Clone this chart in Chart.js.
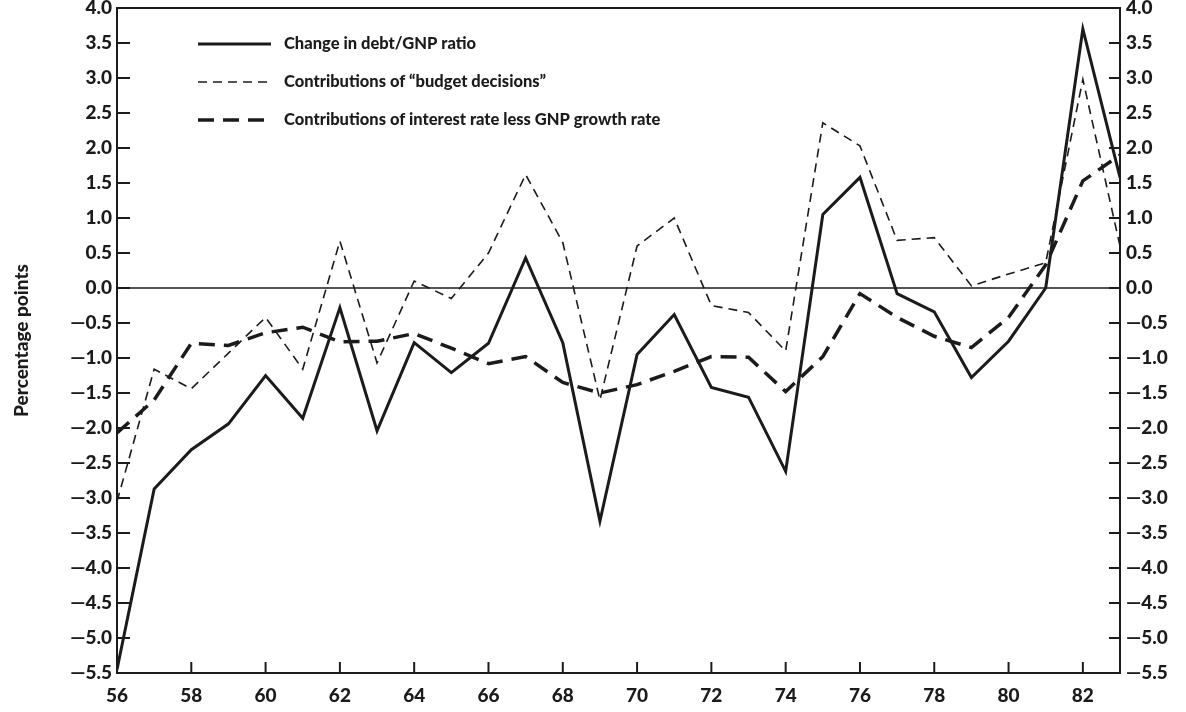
<!DOCTYPE html>
<html>
<head>
<meta charset="utf-8">
<script src="https://cdn.jsdelivr.net/npm/chart.js@4/dist/chart.umd.min.js"></script>
<style>
  html, body { margin: 0; padding: 0; background: #ffffff; }
  #c { display: block; }
</style>
</head>
<body>
<canvas id="c" width="1186" height="712"></canvas>
<script>
// ---- Data ----
const years = [56, 57, 58, 59, 60, 61, 62, 63, 64, 65, 66, 67, 68, 69, 70, 71, 72, 73, 74, 75, 76, 77, 78, 79, 80, 81, 82, 83];
const debtChange = [-5.45, -2.87, -2.31, -1.94, -1.25, -1.86, -0.28, -2.04, -0.78, -1.21, -0.79, 0.43, -0.78, -3.33, -0.95, -0.38, -1.42, -1.56, -2.62, 1.05, 1.58, -0.08, -0.34, -1.28, -0.76, 0.0, 3.70, 1.58];
const budgetDecisions = [-3.05, -1.16, -1.44, -0.93, -0.42, -1.16, 0.67, -1.07, 0.10, -0.15, 0.50, 1.62, 0.65, -1.60, 0.60, 1.00, -0.25, -0.35, -0.90, 2.36, 2.03, 0.68, 0.72, 0.03, 0.20, 0.36, 2.98, 0.60];
const interestLessGrowth = [-2.07, -1.60, -0.79, -0.82, -0.64, -0.56, -0.77, -0.76, -0.65, -0.86, -1.08, -0.98, -1.35, -1.50, -1.38, -1.19, -0.98, -0.99, -1.48, -0.98, -0.08, -0.42, -0.69, -0.85, -0.42, 0.33, 1.53, 1.90];
const xTickYears = [56, 58, 60, 62, 64, 66, 68, 70, 72, 74, 76, 78, 80, 82];
const yTickValues = [4.0, 3.5, 3.0, 2.5, 2.0, 1.5, 1.0, 0.5, 0.0, -0.5, -1.0, -1.5, -2.0, -2.5, -3.0, -3.5, -4.0, -4.5, -5.0, -5.5];
const seriesLabels = ["Change in debt/GNP ratio", "Contributions of \u201cbudget decisions\u201d", "Contributions of interest rate less GNP growth rate"];
const yAxisTitle = "Percentage points";

const INK = '#1b1b1b';
const FONT = 'Lato, "DejaVu Sans", sans-serif';

function toPoints(vals) { return years.map((y, i) => ({ x: y, y: vals[i] })); }
function fmtY(v) {
  const a = Math.abs(v).toFixed(1);
  return v < -0.0001 ? '\u2014' + a : a;
}

const framePlugin = {
  id: 'frame',
  beforeDatasetsDraw(chart) {
    const { ctx, chartArea: a, scales } = chart;
    ctx.save();
    const y0 = scales.y.getPixelForValue(0);
    ctx.strokeStyle = INK;
    ctx.lineWidth = 1.5;
    ctx.beginPath();
    ctx.moveTo(a.left, y0); ctx.lineTo(a.right, y0);
    ctx.stroke();
    ctx.restore();
  },
  afterDatasetsDraw(chart) {
    const { ctx, chartArea: a, scales } = chart;
    ctx.save();
    ctx.strokeStyle = INK;
    ctx.lineWidth = 2;
    ctx.strokeRect(a.left, a.top, a.right - a.left, a.bottom - a.top);
    scales.y.ticks.forEach(t => {
      const py = scales.y.getPixelForValue(t.value);
      ctx.beginPath();
      ctx.moveTo(a.left, py); ctx.lineTo(a.left + 13, py);
      ctx.moveTo(a.right, py); ctx.lineTo(a.right - 11, py);
      ctx.stroke();
    });
    scales.x.ticks.forEach(t => {
      if (t.value === 56) return;
      const px = scales.x.getPixelForValue(t.value);
      ctx.beginPath();
      ctx.moveTo(px, a.bottom); ctx.lineTo(px, a.bottom - 11);
      ctx.stroke();
    });
    // legend
    const rows = [36, 74, 112];
    ctx.font = '900 16.5px ' + FONT;
    ctx.fillStyle = INK;
    ctx.textBaseline = 'middle';
    chart.data.datasets.forEach((ds, i) => {
      const ly = a.top + rows[i];
      ctx.save();
      ctx.strokeStyle = INK;
      ctx.lineWidth = ds.borderWidth;
      ctx.setLineDash(ds.borderDash || []);
      ctx.beginPath();
      ctx.moveTo(a.left + 81, ly); ctx.lineTo(a.left + 154, ly);
      ctx.stroke();
      ctx.restore();
      ctx.fillText(ds.label, a.left + 167, ly);
    });
    ctx.restore();
  }
};

const tickFont = { family: FONT, size: 19, weight: 900 };

function fitY(w) {
  return s => { s.width = w; s.paddingTop = 0; s.paddingBottom = 0; };
}

new Chart(document.getElementById('c'), {
  type: 'line',
  data: {
    datasets: [
      { label: seriesLabels[0], data: toPoints(debtChange), borderColor: INK, borderWidth: 3, pointRadius: 0, tension: 0, fill: false },
      { label: seriesLabels[1], data: toPoints(budgetDecisions), borderColor: INK, borderWidth: 1.6, borderDash: [9, 6], pointRadius: 0, tension: 0, fill: false },
      { label: seriesLabels[2], data: toPoints(interestLessGrowth), borderColor: INK, borderWidth: 3.5, borderDash: [16, 9], pointRadius: 0, tension: 0, fill: false }
    ]
  },
  options: {
    responsive: false,
    animation: false,
    devicePixelRatio: 1,
    layout: { padding: { top: 8, left: 0, right: 0, bottom: 0 } },
    plugins: { legend: { display: false }, tooltip: { enabled: false } },
    scales: {
      x: {
        type: 'linear', min: 56, max: 83, position: 'bottom',
        grid: { display: false, drawTicks: false }, border: { display: false },
        afterBuildTicks: s => { s.ticks = xTickYears.map(v => ({ value: v })); },
        afterFit: s => { s.height = 39; },
        ticks: { font: tickFont, color: INK, padding: 11, autoSkip: false, maxRotation: 0, callback: v => String(v) }
      },
      y: {
        type: 'linear', min: -5.5, max: 4.0, position: 'left',
        grid: { display: false, drawTicks: false }, border: { display: false },
        afterBuildTicks: s => { s.ticks = yTickValues.map(v => ({ value: v })); },
        afterFit: fitY(117),
        ticks: { font: tickFont, color: INK, padding: 5, autoSkip: false, callback: v => fmtY(v) },
        title: { display: true, text: yAxisTitle, font: { family: FONT, size: 19, weight: 900 }, color: INK, padding: { top: 10, bottom: 0 } }
      },
      y2: {
        type: 'linear', min: -5.5, max: 4.0, position: 'right',
        grid: { display: false, drawTicks: false }, border: { display: false },
        afterBuildTicks: s => { s.ticks = yTickValues.map(v => ({ value: v })); },
        afterFit: fitY(66),
        ticks: { font: tickFont, color: INK, padding: 6, autoSkip: false, callback: v => fmtY(v) }
      }
    }
  },
  plugins: [framePlugin]
});
</script>
</body>
</html>
